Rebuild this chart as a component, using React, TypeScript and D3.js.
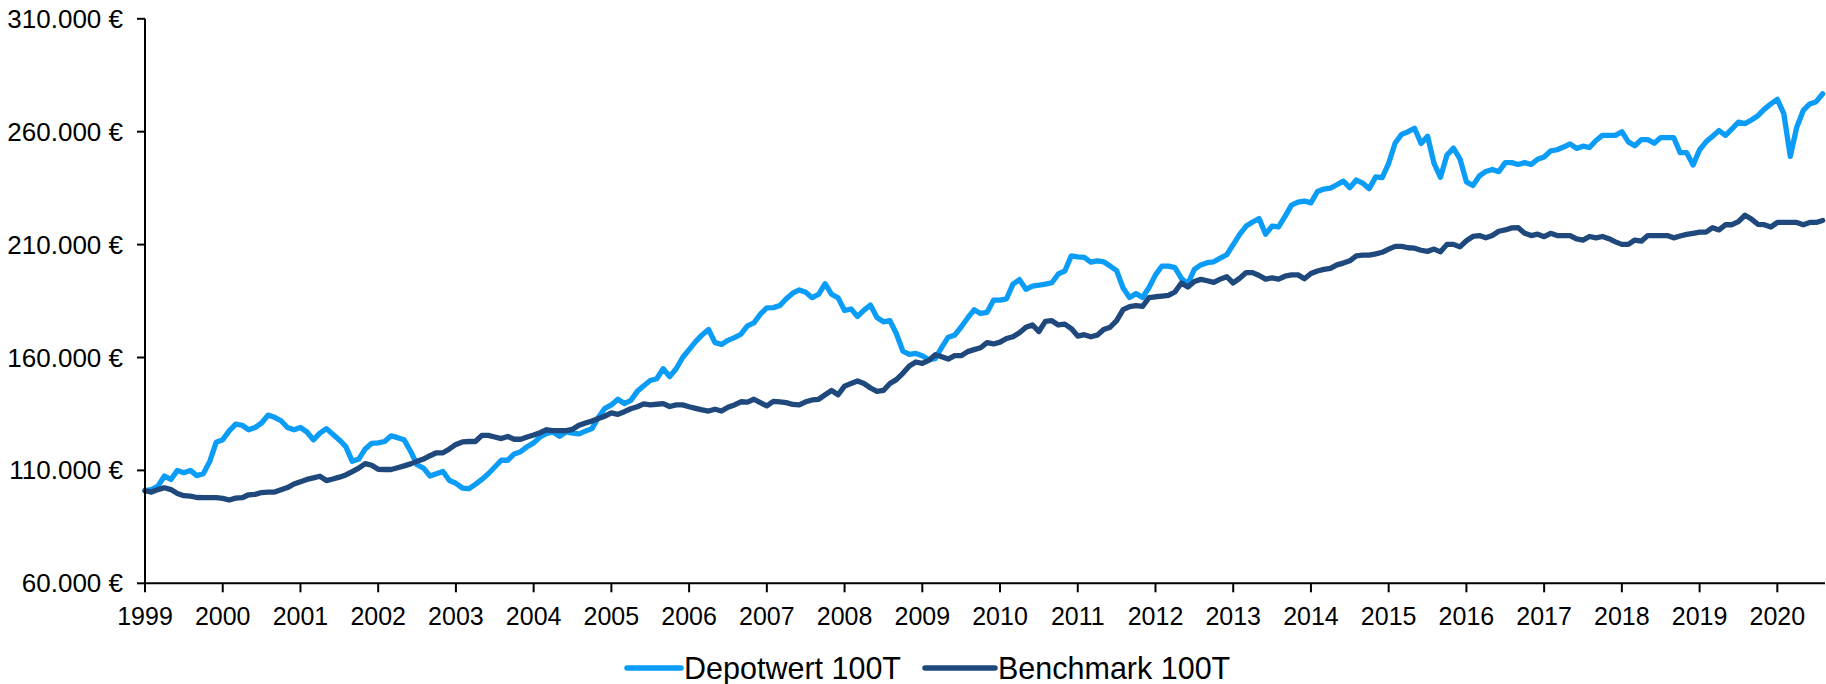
import React from "react";
import * as d3 from "d3";

// Monthly values (thousand €), Jan 1999 .. Aug 2020
const depotwert = [
  101, 101.5, 103, 107.5, 106, 110, 109, 110, 107.7, 108.5, 114, 122.5,
  123.6, 127.5, 130.5, 130, 128, 129, 131, 134.5, 133.5, 132, 129, 128,
  129, 127, 123.5, 126.5, 128.5, 126, 123.5, 120.5, 114, 115, 119.5, 122,
  122.2, 122.8, 125.3, 124.5, 123.6, 118.5, 112.5, 111, 107.5, 108.5, 109.5, 105.5,
  104.3, 102.2, 101.9, 103.8, 106, 108.5, 111.5, 114.5, 114.5, 117.3, 118.3, 120.5,
  122.2, 124.8, 126.4, 127, 125.1, 127, 126.5, 126.2, 127.4, 128.5, 133.5, 137.5,
  139, 141.5, 139.6, 141, 145, 147.5, 149.8, 150.6, 155, 151.5, 155, 160,
  163.5, 167, 170, 172.4, 166.6, 165.8, 167.6, 168.8, 170.3, 174, 175.3, 179.2,
  182, 182.1, 183, 186, 188.5, 189.9, 188.9, 186.5, 188, 192.7, 188, 186.4,
  180.8, 181.5, 178.2, 181, 183.2, 177.7, 175.8, 176.3, 170.5, 162.8, 161.4, 161.8,
  160.8, 159, 159.5, 164.5, 169, 169.9, 173.5, 177.5, 181.1, 179.5, 180, 185.4,
  185.4, 186, 192.5, 194.5, 190.2, 191.6, 192, 192.5, 193.1, 197, 198.3, 205,
  204.6, 204.3, 202.2, 202.8, 202.4, 200.5, 198.5, 190.8, 186.6, 188.3, 186.6, 191,
  196.6, 200.5, 200.5, 199.8, 195, 192.7, 199, 201, 202, 202.4, 204, 205.5,
  210, 214.5, 218.2, 220, 221.5, 214.6, 218.2, 217.8, 222.5, 227.5, 228.8, 229.3,
  228.5, 233.5, 234.6, 235, 236.5, 238.1, 235.2, 238.6, 237.2, 234.8, 240, 239.7,
  246, 255, 258.8, 260, 261.5, 254.8, 258, 246, 239.8, 249.7, 252.7, 248,
  237.8, 236.2, 240.4, 242.4, 243.3, 242.3, 246.3, 246.3, 245.5, 246.3, 245.5, 247.8,
  248.8, 251.5, 252, 253.2, 254.6, 252.6, 253.6, 253, 256.1, 258.4, 258.4, 258.4,
  260, 255.5, 253.8, 256.5, 256.5, 254.9, 257.4, 257.4, 257.4, 250.7, 250.7, 245.3,
  252, 255.5, 258, 260.5, 258.4, 261.3, 264.2, 263.6, 265.2, 267.1, 270, 272.3,
  274.3, 268, 249.1, 262, 269.4, 272.3, 273.3, 276.8,
];

const benchmark = [
  101, 100.4, 101.5, 102.3, 101.5, 99.8, 98.8, 98.6, 98, 97.9, 97.9, 97.9,
  97.6, 96.9, 97.7, 97.9, 99.2, 99.4, 100.2, 100.4, 100.4, 101.4, 102.4, 104,
  105, 106, 106.7, 107.4, 105.5, 106.2, 107, 108, 109.5, 111, 113, 112.3,
  110.5, 110.4, 110.4, 111.2, 112, 112.9, 114, 115, 116.5, 117.8, 117.8, 119.5,
  121.5, 122.6, 122.8, 122.8, 125.5, 125.5, 124.8, 124.1, 125, 123.8, 123.8, 124.8,
  125.7, 126.7, 128, 127.6, 127.6, 127.6, 128.2, 130, 131, 131.9, 133, 134,
  135.5, 134.8, 136, 137.3, 138.2, 139.5, 139, 139.3, 139.6, 138.3, 139, 139,
  138.2, 137.5, 136.8, 136.3, 137.1, 136.3, 138, 139, 140.4, 140.2, 141.5, 140,
  138.6, 140.6, 140.3, 140, 139.2, 139, 140.4, 141.2, 141.5, 143.5, 145.4, 143.5,
  147.3, 148.5, 149.6, 148.5, 146.5, 145, 145.4, 148.5, 150.2, 153, 156.2, 158,
  157.4, 158.7, 161.2, 160.3, 159.3, 160.8, 160.8, 162.6, 163.5, 164.3, 166.6, 166,
  166.8, 168.4, 169.2, 171, 173.4, 174.4, 171.5, 176, 176.3, 174.4, 174.8, 172.8,
  169.5, 170.1, 169.2, 169.9, 172.4, 173.4, 176.3, 181.2, 182.5, 183, 182.6, 186.5,
  186.9, 187.2, 187.5, 189, 193, 191.2, 193.7, 194.6, 194, 193.3, 194.7, 195.8,
  193, 195.1, 197.6, 197.6, 196.3, 194.7, 195.3, 194.7, 196, 196.6, 196.6, 194.9,
  197.2, 198.3, 199, 199.5, 201, 201.8, 202.8, 205, 205.3, 205.3, 205.9, 206.6,
  208, 209.2, 209.2, 208.6, 208.4, 207.5, 207, 208, 206.8, 210.1, 210.1, 209,
  211.7, 213.6, 214, 213, 214, 215.9, 216.5, 217.4, 217.5, 215, 214, 214.6,
  213.5, 215, 214, 214, 214, 212.5, 212, 213.6, 213, 213.6, 212.6, 211.2,
  210.1, 210.1, 212, 211.5, 214, 214, 214, 214, 213, 213.8, 214.5, 215,
  215.5, 215.5, 217.5, 216.5, 218.8, 218.8, 220.2, 223, 221.3, 219, 218.8, 217.8,
  219.8, 219.8, 219.8, 219.8, 218.8, 219.8, 219.8, 220.7,
];

const startYear = 1999;
const yearTicks = d3.range(1999, 2021);
const valueTicks = [60000, 110000, 160000, 210000, 260000, 310000];
const seriesNames = ["Depotwert 100T", "Benchmark 100T"];
const seriesColors = ["#0a9cf7", "#1f497d"];

const deLocale = d3.formatLocale({
  decimal: ",",
  thousands: ".",
  grouping: [3],
  currency: ["", " €"],
});
const fmtEuro = (v: number) => deLocale.format(",.0f")(v) + " €";

export default function App() {
  const W = 1826;
  const H = 684;
  const left = 145;
  const right = 1825;
  const top = 18.8;
  const bottom = 583.3;
  const pxPerYear = 77.73;

  const x = d3
    .scaleLinear()
    .domain([startYear, startYear + (right - left) / pxPerYear])
    .range([left, right]);
  const y = d3.scaleLinear().domain([60000, 310000]).range([bottom, top]);

  const line = d3
    .line<number>()
    .x((_, i) => x(startYear + i / 12))
    .y((d) => y(d * 1000));

  const series = [depotwert, benchmark];
  const font = "'Liberation Sans', Arial, sans-serif";

  const legendItems = [
    { x0: 627, x1: 681, tx: 684 },
    { x0: 925, x1: 995, tx: 998 },
  ];

  return (
    <svg
      width={W}
      height={H}
      style={{ position: "absolute", left: 0, top: 0, background: "#fff" }}
      fontFamily={font}
    >
      {series.map((s, k) => (
        <path
          key={k}
          d={line(s) || ""}
          fill="none"
          stroke={seriesColors[k]}
          strokeWidth={5.3}
          strokeLinejoin="round"
          strokeLinecap="round"
        />
      ))}

      <line x1={left} x2={left} y1={top} y2={bottom} stroke="#000" strokeWidth={2} />
      <line x1={left} x2={right} y1={bottom} y2={bottom} stroke="#000" strokeWidth={2} />

      {valueTicks.map((v) => (
        <g key={v}>
          <line x1={left - 8} x2={left} y1={y(v)} y2={y(v)} stroke="#000" strokeWidth={2} />
          <text x={123} y={y(v) + 9} textAnchor="end" fontSize={26} fill="#000">
            {fmtEuro(v)}
          </text>
        </g>
      ))}

      {yearTicks.map((yr) => (
        <g key={yr}>
          <line x1={x(yr)} x2={x(yr)} y1={bottom} y2={bottom + 9} stroke="#000" strokeWidth={2} />
          <text x={x(yr)} y={625} textAnchor="middle" fontSize={25} fill="#000">
            {yr}
          </text>
        </g>
      ))}

      {legendItems.map((it, k) => (
        <g key={k}>
          <line
            x1={it.x0}
            x2={it.x1}
            y1={668}
            y2={668}
            stroke={seriesColors[k]}
            strokeWidth={5.5}
            strokeLinecap="round"
          />
          <text x={it.tx} y={678.5} fontSize={30.5} fill="#000">
            {seriesNames[k]}
          </text>
        </g>
      ))}
    </svg>
  );
}
